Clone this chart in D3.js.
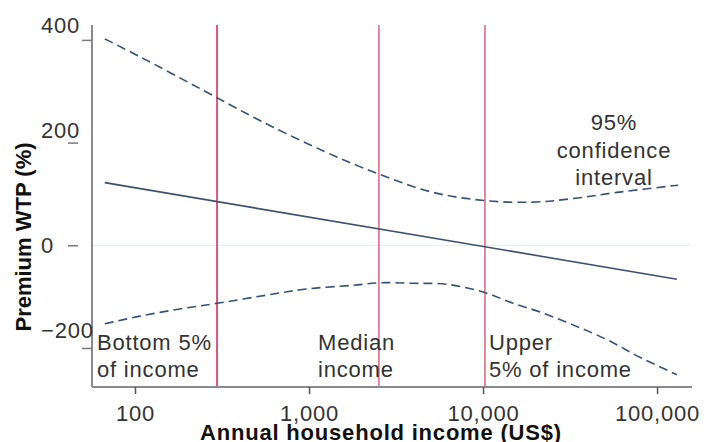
<!DOCTYPE html>
<html><head><meta charset="utf-8">
<script src="https://cdn.jsdelivr.net/npm/d3@7"></script>
<style>
html,body{margin:0;padding:0;background:#fff;}
text{font-family:"Liberation Sans",Arial,sans-serif;}
</style></head>
<body>
<svg id="chart" width="708" height="442"></svg>
<script>
// ---- data ----
const xTicks = [100, 1000, 10000, 100000];
const yTicks = [400, 200, 0, -200];
const fitIncome = [67, 130000];
const fitValue = [122, -66];
const upperIncome = [67, 107, 237, 522, 1202, 2460, 5160, 10260, 19350, 32870, 58880, 132000];
const upperValue  = [402, 367, 305, 243, 184, 140, 103, 87, 84, 91, 103, 117];
const lowerIncome = [67, 107, 181, 296, 574, 971, 1788, 2550, 3940, 6190, 10000, 14900, 21300, 32870, 51700, 79700, 130000];
const lowerValue  = [-153, -138, -124, -113, -97, -85, -78, -73, -74, -76, -91, -113, -130, -155, -184, -218, -252];
const markerIncome = [296, 2520, 10260];
const markerLabels = [["Bottom 5%", "of income"], ["Median", "income"], ["Upper", "5% of income"]];
const ciLabel = ["95%", "confidence", "interval"];
const xTitle = "Annual household income (US$)";
const yTitle = "Premium WTP (%)";

// ---- scales ----
const svg = d3.select("#chart");
const x = d3.scaleLog().domain([56.6, 158800]).range([92, 692]);
const y = d3.scaleLinear().domain([-276, 429]).range([387, 25]);
const LS = "0.8px";

// zero line
svg.append("line").attr("x1", x.range()[0]).attr("x2", 690)
  .attr("y1", y(0)).attr("y2", y(0))
  .attr("stroke", "#e3f1f1").attr("stroke-width", 1.2);

// marker lines
svg.selectAll(".marker").data(markerIncome).enter().append("line")
  .attr("x1", d => x(d)).attr("x2", d => x(d))
  .attr("y1", y.range()[1]).attr("y2", y.range()[0])
  .attr("stroke", (d, i) => i === 0 ? "#e0577c" : "#e57893")
  .attr("stroke-width", (d, i) => i === 0 ? 2 : 1.8);

// lines
const line = d3.line().x(d => x(d[0])).y(d => y(d[1])).curve(d3.curveCatmullRom);
svg.append("path").datum(d3.zip(fitIncome, fitValue)).attr("d", line)
  .attr("fill", "none").attr("stroke", "#3d5070").attr("stroke-width", 1.6);
[[upperIncome, upperValue], [lowerIncome, lowerValue]].forEach(([xi, yi]) => {
  svg.append("path").datum(d3.zip(xi, yi)).attr("d", line)
    .attr("fill", "none").attr("stroke", "#35507a").attr("stroke-width", 1.6)
    .attr("stroke-dasharray", "9,5");
});

// axes
const axisColor = "#8a8a8a";
const gx = svg.append("g").attr("transform", `translate(0,${y.range()[0]})`)
  .call(d3.axisBottom(x).tickValues(xTicks).tickFormat(d3.format(",")).tickSize(7).tickSizeOuter(0));
gx.select(".domain").attr("stroke", axisColor).attr("stroke-width", 2).attr("d", `M${x.range()[0]},0H${x.range()[1]}`);
gx.selectAll(".tick line").attr("stroke", "#555").attr("stroke-width", 1.5);
gx.selectAll(".tick text").attr("font-family", "Liberation Sans, Arial, sans-serif")
  .attr("font-size", 22).attr("fill", "#333").attr("letter-spacing", LS)
  .attr("y", 0).attr("dy", 34);

const gy = svg.append("g").attr("transform", `translate(${x.range()[0]},0)`)
  .call(d3.axisLeft(y).tickValues(yTicks).tickSize(10).tickSizeOuter(0));
gy.select(".domain").attr("stroke", axisColor).attr("stroke-width", 2).attr("d", `M0,${y.range()[1]}V${y.range()[0]}`);
const tickShift = {400: 0, 200: -14, 0: -14, "-200": 0};
const labelDy = {400: -7, 200: -5, 0: 7, "-200": -10};
gy.selectAll(".tick line").attr("stroke", "#777").attr("stroke-width", 1.5)
  .attr("x1", d => tickShift[d]).attr("x2", d => tickShift[d] - 10);
gy.selectAll(".tick text").attr("font-family", "Liberation Sans, Arial, sans-serif")
  .attr("font-size", 22).attr("fill", "#333").attr("letter-spacing", LS)
  .attr("text-anchor", "start").attr("x", 41 - x.range()[0])
  .attr("dy", null).attr("y", d => labelDy[d]);

// marker labels
const labelStart = [97, 318, 489];
markerLabels.forEach((lines, i) => {
  lines.forEach((t, j) => {
    svg.append("text").attr("x", labelStart[i]).attr("y", 350 + j * 27)
      .attr("font-size", 22).attr("fill", "#333").attr("letter-spacing", LS).text(t);
  });
});
ciLabel.forEach((t, j) => {
  svg.append("text").attr("x", 614).attr("y", 130 + j * 27.5)
    .attr("text-anchor", "middle").attr("font-size", 22).attr("fill", "#333")
    .attr("letter-spacing", LS).text(t);
});

// titles
svg.append("text").attr("x", 381).attr("y", 440).attr("text-anchor", "middle")
  .attr("font-size", 22).attr("font-weight", "bold").attr("fill", "#111")
  .attr("letter-spacing", LS).text(xTitle);
svg.append("text").attr("transform", "translate(31,237) rotate(-90)").attr("text-anchor", "middle")
  .attr("font-size", 22).attr("font-weight", "bold").attr("fill", "#111").text(yTitle);
</script>
</body></html>
